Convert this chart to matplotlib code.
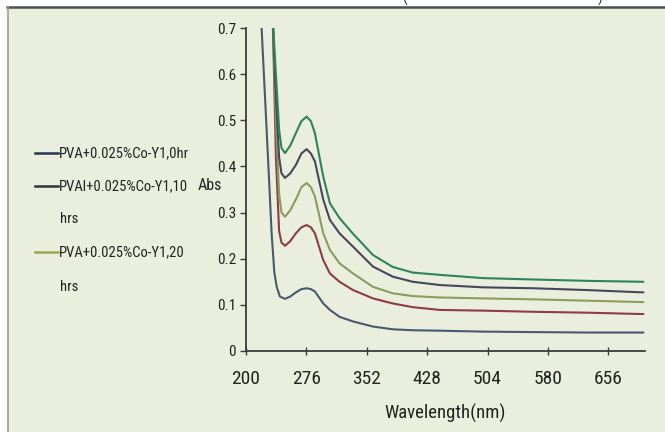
import matplotlib
matplotlib.use("Agg")
import matplotlib.pyplot as plt
from matplotlib.lines import Line2D
from matplotlib.patches import Rectangle

# data (wavelength nm -> Abs)
x_blue = [220, 224, 228, 232.6, 236, 239, 243, 249.4, 256, 263, 270, 276.6, 282, 287, 297.5, 305.9,
          318, 335, 360, 385, 410, 444, 498, 561, 630, 700]
y_blue = [0.70, 0.56, 0.42, 0.255, 0.17, 0.139, 0.118, 0.113, 0.118, 0.127, 0.134, 0.136, 0.134, 0.129,
          0.103, 0.089, 0.074, 0.064, 0.053, 0.047, 0.045, 0.044, 0.042, 0.041, 0.040, 0.040]

x_up = [234, 238, 242, 245, 249.4, 256, 263, 270, 276.6, 282, 287, 297.5, 305.9, 318, 335, 360, 385,
        410, 444, 498, 561, 630, 700]
y_red = [0.72, 0.42, 0.26, 0.235, 0.228, 0.238, 0.255, 0.268, 0.273, 0.268, 0.255, 0.197, 0.168, 0.150,
         0.132, 0.114, 0.103, 0.095, 0.089, 0.0875, 0.085, 0.083, 0.080]
y_olive = [0.72, 0.50, 0.34, 0.30, 0.291, 0.305, 0.328, 0.355, 0.364, 0.355, 0.335, 0.255, 0.219, 0.190,
           0.168, 0.139, 0.125, 0.119, 0.116, 0.114, 0.112, 0.109, 0.106]
y_purple = [0.72, 0.55, 0.42, 0.385, 0.375, 0.385, 0.403, 0.428, 0.4375, 0.428, 0.411, 0.328, 0.284, 0.255,
            0.226, 0.183, 0.161, 0.150, 0.143, 0.138, 0.136, 0.132, 0.127]
y_green = [0.72, 0.60, 0.48, 0.44, 0.429, 0.445, 0.472, 0.498, 0.508, 0.498, 0.472, 0.378, 0.320, 0.288,
           0.254, 0.208, 0.182, 0.170, 0.165, 0.158, 0.155, 0.152, 0.150]

xticks = [200, 276, 352, 428, 504, 580, 656]
yticks = [0, 0.1, 0.2, 0.3, 0.4, 0.5, 0.6, 0.7]
ytick_labels = ["0", "0.1", "0.2", "0.3", "0.4", "0.5", "0.6", "0.7"]

legend_labels = ["PVA+0.025%Co-Y1,0hr", "PVAl+0.025%Co-Y1,10", "PVA+0.025%Co-Y1,20"]
legend_colors = ["#2c3352", "#33333d", "#a3a24a"]

FONT = ["Roboto Condensed", "Liberation Sans Narrow", "DejaVu Sans"]
ST = "condensed"
BG = "#e9efdc"

fig = plt.figure(figsize=(6.65, 4.32), dpi=100)
fig.patch.set_facecolor("white")

# greenish chart area + borders of the screenshot
fig.patches.append(Rectangle((8/665, 0), 1 - 8/665, 1 - 7/432, transform=fig.transFigure,
                             facecolor=BG, edgecolor="none", zorder=-5))
fig.lines.append(Line2D([7/665, 1], [1 - 7/432, 1 - 7/432], transform=fig.transFigure,
                        color="#4d4d4d", lw=1.8))
fig.lines.append(Line2D([8/665, 8/665], [0, 1 - 7/432], transform=fig.transFigure,
                        color="#9a9a9a", lw=1.2))
fig.text(405/665, 1.003, "(", family=FONT, stretch=ST, fontsize=11, va="center", ha="center", color="#333333")
fig.text(600/665, 1.003, ")", family=FONT, stretch=ST, fontsize=11, va="center", ha="center", color="#333333")

ax = fig.add_axes([245.7/665, 1 - 351/432, (645 - 245.7)/665, (351 - 28)/432])
ax.set_facecolor("none")
ax.set_zorder(2)

kw = dict(lw=1.5, solid_joinstyle="round", solid_capstyle="round")
ax.plot(x_blue, y_blue, color="#4a5870", **kw)
ax.plot(x_up, y_red, color="#8e3b44", **kw)
ax.plot(x_up, y_olive, color="#8c9c5c", **kw)
ax.plot(x_up, y_purple, color="#48455e", **kw)
ax.plot(x_up, y_green, color="#2e8458", **kw)

ax.set_xlim(200, 702)
ax.set_ylim(0, 0.7)
ax.set_xticks(xticks)
ax.set_xticklabels([str(t) for t in xticks], family=FONT, stretch=ST, fontsize=14)
ax.set_yticks(yticks)
ax.set_yticklabels(ytick_labels, family=FONT, stretch=ST, fontsize=11)
ax.tick_params(axis="x", direction="inout", length=6, width=1, colors="#3a3a3a", pad=11)
ax.tick_params(axis="y", direction="out", length=4, width=1, colors="#3a3a3a", pad=3)
for t in ax.get_xticklabels() + ax.get_yticklabels():
    t.set_color("#222222")

for s in ["top", "right"]:
    ax.spines[s].set_visible(False)
for s in ["left", "bottom"]:
    ax.spines[s].set_color("#3a3a3a")
    ax.spines[s].set_linewidth(1.3)

ax.set_xlabel("Wavelength(nm)", family=FONT, stretch=ST, fontsize=13.5, color="#222222", labelpad=11)
fig.text(210/665, 1 - 186/432, "Abs", family=FONT, stretch=ST, fontsize=11.5, color="#222222",
         ha="center", va="center")

# legend (only three entries are visible, two wrap onto a second line)
leg_y = [153, 186, 252]
for lab, col, yy in zip(legend_labels, legend_colors, leg_y):
    yf = 1 - yy/432
    fig.lines.append(Line2D([35/665, 58/665], [yf, yf], transform=fig.transFigure, color=col, lw=1.8))
    fig.text(59/665, yf, lab, family=FONT, stretch=ST, fontsize=10.5, color="#222222", ha="left", va="center")
fig.text(60/665, 1 - 219/432, "hrs", family=FONT, stretch=ST, fontsize=10.5, color="#222222", ha="left", va="center")
fig.text(60/665, 1 - 287/432, "hrs", family=FONT, stretch=ST, fontsize=10.5, color="#222222", ha="left", va="center")

fig.savefig("out.png", dpi=100)
